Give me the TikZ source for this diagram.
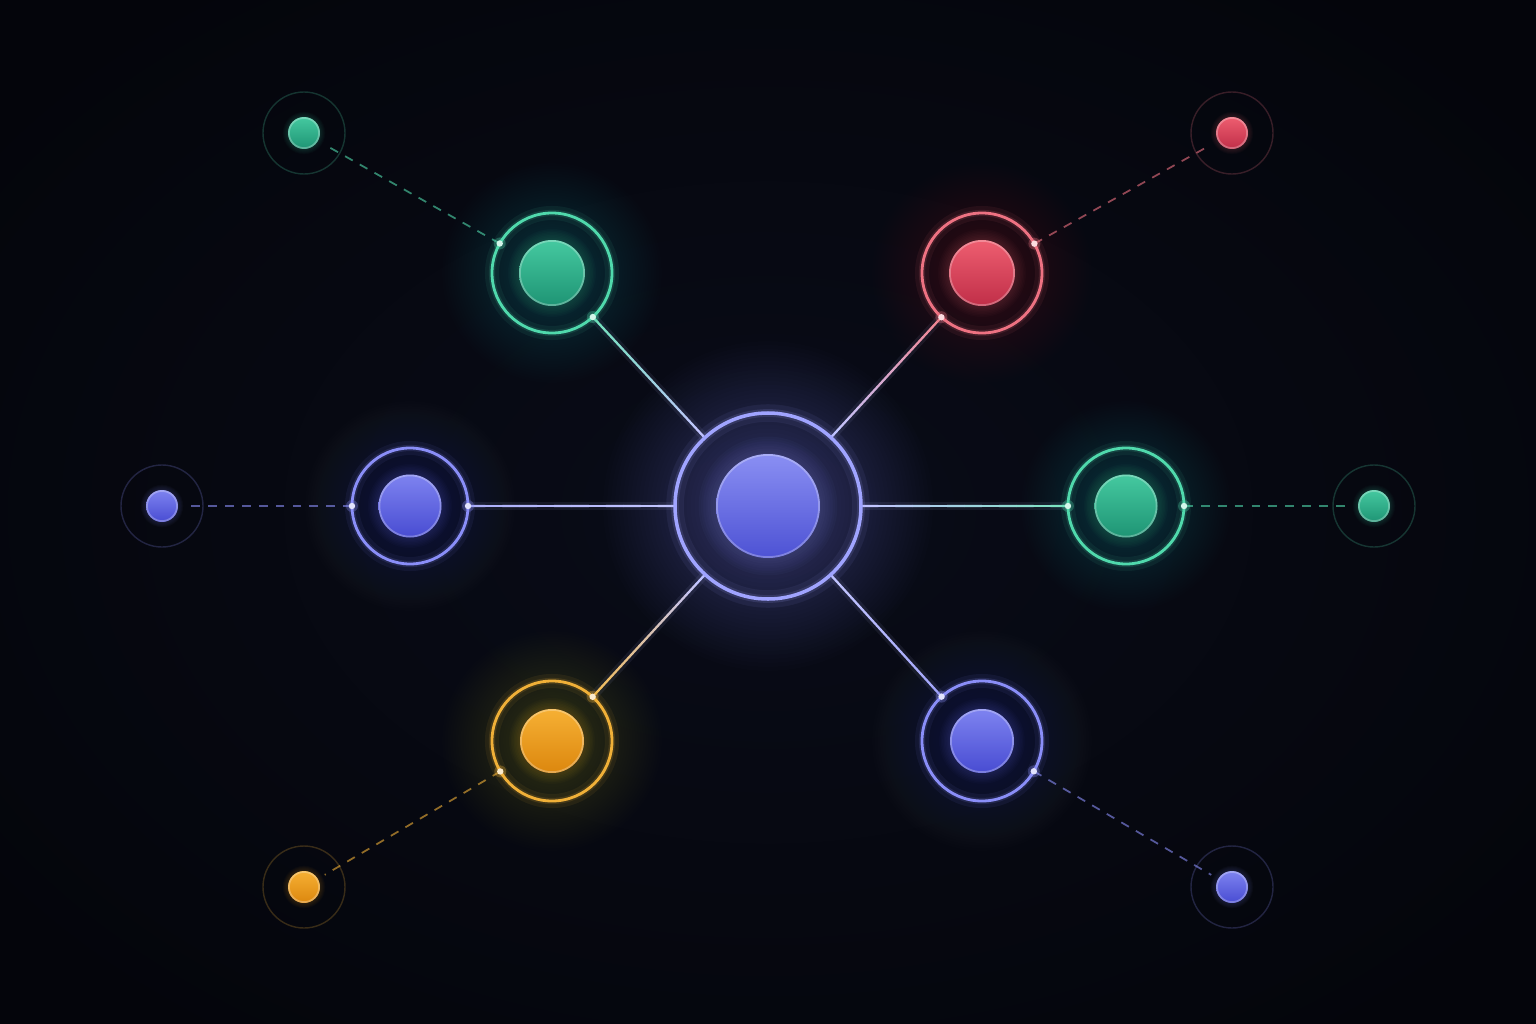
\documentclass[tikz,border=0pt]{standalone}
\usetikzlibrary{calc}
\definecolor{bg}{HTML}{04050B}
\definecolor{bgmid}{HTML}{090C18}
\definecolor{bluA}{HTML}{7E83F0}\definecolor{bluB}{HTML}{484CD2}\definecolor{bluR}{HTML}{8A8EF8}
\definecolor{grnA}{HTML}{45C9A0}\definecolor{grnB}{HTML}{1E9474}\definecolor{grnR}{HTML}{50D9AC}
\definecolor{redA}{HTML}{EE5E70}\definecolor{redB}{HTML}{C02E48}\definecolor{redR}{HTML}{EE7282}
\definecolor{orgA}{HTML}{F6B034}\definecolor{orgB}{HTML}{DC870E}\definecolor{orgR}{HTML}{F0B038}
\definecolor{cenA}{HTML}{8A8FF3}\definecolor{cenB}{HTML}{4D52D4}\definecolor{cenR}{HTML}{A0A4FF}
\definecolor{linec}{HTML}{C2C5FF}
\tikzset{
  anchorpt/.style={circle, inner sep=0pt, outer sep=0pt, minimum size=#1},
  dashline/.style={line width=0.5pt, dash pattern=on 2.5pt off 2.3pt, opacity=0.6},
}
\newcommand\myglow[4]{\foreach \k in {0,...,29}{\fill[#2, opacity=#4] (#1) circle[radius={#3*(0.3+0.0241*\k)}];}}
\newcommand\mysphere[3]{%
  \foreach \k in {0,...,7}{\fill[#3R, opacity=0.025] (#1) circle[radius={#2*(1.02+0.045*\k)}];}
  \shade[top color=#3A, bottom color=#3B] (#1) circle[radius=#2];
  \draw[white, opacity=0.28, line width=0.5pt] (#1) circle[radius={#2-0.9}];
}
\newcommand\myring[4]{%
  \draw[#3, opacity=0.07, line width={#4*5}] (#1) circle[radius=#2];
  \draw[#3, opacity=0.14, line width={#4*2.2}] (#1) circle[radius=#2];
  \draw[#3, line width=#4] (#1) circle[radius=#2];
}
\newcommand\mydot[2]{\fill[#2, opacity=0.3] (#1) circle[radius=6]; \fill[#2!25!white] (#1) circle[radius=3.2];}
\newcommand\gradline[4]{%
  \draw[#4, opacity=0.08, line width=2.4pt] (#1) -- (#2);
  \foreach \i in {0,...,11}{\pgfmathsetmacro\pa{\i/12}\pgfmathsetmacro\pb{(\i+1)/12}\pgfmathtruncatemacro\pc{100-100*\i/11}%
    \draw[line width=0.65pt, line cap=round, #3!\pc!#4] ($(#1)!\pa!(#2)$) -- ($(#1)!\pb!(#2)$);}}
\begin{document}
\begin{tikzpicture}[x=0.01cm, y=-0.01cm]
\useasboundingbox (0,0) rectangle (1536,1024);
\fill[bg] (0,0) rectangle (1536,1024);
\shade[inner color=bgmid, outer color=bg] (-200,-150) rectangle (1736,1174);
% named nodes
\node[anchorpt=1.86cm] (c) at (768,506) {};
\node[anchorpt=1.2cm] (g1) at (552,273) {};
\node[anchorpt=1.2cm] (r1) at (982,273) {};
\node[anchorpt=1.16cm] (b1) at (410,506) {};
\node[anchorpt=1.16cm] (g2) at (1126,506) {};
\node[anchorpt=1.2cm] (o1) at (552,741) {};
\node[anchorpt=1.2cm] (b2) at (982,741) {};
\node[anchorpt=0.48cm] (g1o) at (304,133) {};
\node[anchorpt=0.48cm] (r1o) at (1232,133) {};
\node[anchorpt=0.48cm] (b1o) at (162,506) {};
\node[anchorpt=0.48cm] (g2o) at (1374,506) {};
\node[anchorpt=0.48cm] (o1o) at (304,887) {};
\node[anchorpt=0.48cm] (b2o) at (1232,887) {};
% glows
\myglow{c}{cenR}{165}{0.011}
\myglow{g1}{grnR}{110}{0.009}
\myglow{r1}{redR}{110}{0.009}
\myglow{b1}{bluR}{105}{0.009}
\myglow{g2}{grnR}{105}{0.009}
\myglow{o1}{orgR}{110}{0.009}
\myglow{b2}{bluR}{110}{0.009}
\myglow{g1o}{grnR}{60}{0.004}
\myglow{r1o}{redR}{60}{0.004}
\myglow{b1o}{bluR}{60}{0.004}
\myglow{g2o}{grnR}{60}{0.004}
\myglow{o1o}{orgR}{60}{0.004}
\myglow{b2o}{bluR}{60}{0.004}
% solid connector end points
\path (c) -- (g1) coordinate[pos=0] (cg1) coordinate[pos=1] (g1c);
\path (c) -- (r1) coordinate[pos=0] (cr1) coordinate[pos=1] (r1c);
\path (c) -- (b1) coordinate[pos=0] (cb1) coordinate[pos=1] (b1c);
\path (c) -- (g2) coordinate[pos=0] (cg2) coordinate[pos=1] (g2c);
\path (c) -- (o1) coordinate[pos=0] (co1) coordinate[pos=1] (o1c);
\path (c) -- (b2) coordinate[pos=0] (cb2) coordinate[pos=1] (b2c);
\gradline{g1c}{cg1}{grnR!80!white}{linec}
\gradline{r1c}{cr1}{redR!85!white}{linec}
\gradline{b1c}{cb1}{bluR!70!white}{linec}
\gradline{g2c}{cg2}{grnR!75!white}{linec}
\gradline{o1c}{co1}{orgR!85!white}{linec}
\gradline{b2c}{cb2}{bluR!80!white}{linec}
% dashed connectors
\path (g1) -- (g1o) coordinate[pos=0] (g1d);
\path (r1) -- (r1o) coordinate[pos=0] (r1d);
\path (b1) -- (b1o) coordinate[pos=0] (b1d);
\path (g2) -- (g2o) coordinate[pos=0] (g2d);
\path (o1) -- (o1o) coordinate[pos=0] (o1d);
\path (b2) -- (b2o) coordinate[pos=0] (b2d);
\draw[dashline, grnR] (g1) -- (g1o);
\draw[dashline, redR] (r1) -- (r1o);
\draw[dashline, bluR] (b1) -- (b1o);
\draw[dashline, grnR] (g2) -- (g2o);
\draw[dashline, orgR] (o1) -- (o1o);
\draw[dashline, bluR] (b2) -- (b2o);
% rings
\myring{c}{93}{cenR}{1.0pt}
\myring{g1}{60}{grnR}{0.8pt}
\myring{r1}{60}{redR}{0.8pt}
\myring{b1}{58}{bluR}{0.8pt}
\myring{g2}{58}{grnR}{0.8pt}
\myring{o1}{60}{orgR}{0.8pt}
\myring{b2}{60}{bluR}{0.8pt}
\foreach \n/\cl in {g1o/grnR, r1o/redR, b1o/bluR, g2o/grnR, o1o/orgR, b2o/bluR}{
  \draw[\cl, opacity=0.22, line width=0.4pt] (\n) circle[radius=41];}
% spheres
\mysphere{c}{52}{cen}
\mysphere{g1}{33}{grn}
\mysphere{r1}{33}{red}
\mysphere{b1}{31.5}{blu}
\mysphere{g2}{31.5}{grn}
\mysphere{o1}{32}{org}
\mysphere{b2}{32}{blu}
\mysphere{g1o}{16}{grn}
\mysphere{r1o}{16}{red}
\mysphere{b1o}{16}{blu}
\mysphere{g2o}{16}{grn}
\mysphere{o1o}{16}{org}
\mysphere{b2o}{16}{blu}
% dots
\mydot{g1c}{grnR}\mydot{g1d}{grnR}
\mydot{r1c}{redR}\mydot{r1d}{redR}
\mydot{b1c}{bluR}\mydot{b1d}{bluR}
\mydot{g2c}{grnR}\mydot{g2d}{grnR}
\mydot{o1c}{orgR}\mydot{o1d}{orgR}
\mydot{b2c}{bluR}\mydot{b2d}{bluR}
\end{tikzpicture}
\end{document}
